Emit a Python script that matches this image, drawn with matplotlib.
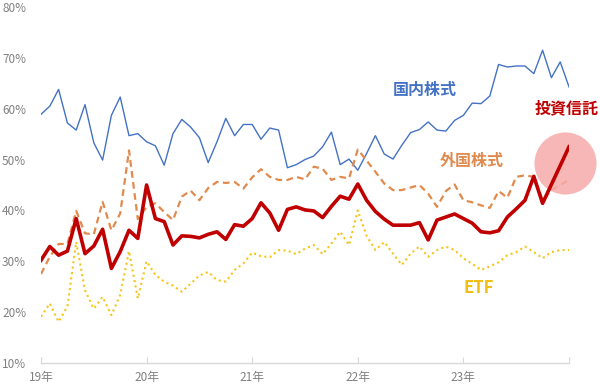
import matplotlib

matplotlib.use("Agg")
import matplotlib.pyplot as plt

plt.rcParams["font.family"] = ["Noto Sans CJK JP", "DejaVu Sans"]

# monthly shares (%), Jan 2019 .. Jan 2024
domestic = [
    58.9, 60.5, 63.8, 57.2, 55.8, 60.8, 53.3, 49.9, 58.7, 62.3,
    54.7, 55.1, 53.5, 52.7, 48.9, 55.1, 57.9, 56.4, 54.3, 49.4,
    53.5, 58.1, 54.7, 56.9, 56.9, 54.0, 56.2, 55.8, 48.4, 49.0,
    50.0, 50.7, 52.5, 55.4, 49.0, 50.1, 47.9, 51.2, 54.7, 51.1,
    50.1, 52.8, 55.3, 55.9, 57.4, 55.8, 55.6, 57.7, 58.7, 61.1,
    61.0, 62.5, 68.7, 68.2, 68.4, 68.4, 66.9, 71.5, 66.1, 69.2,
    64.3,
]
trusts = [
    30.2, 32.9, 31.2, 32.0, 38.4, 31.5, 33.0, 36.3, 28.6, 31.9,
    36.1, 34.5, 45.0, 38.4, 37.8, 33.2, 35.0, 34.9, 34.6, 35.3,
    35.8, 34.3, 37.2, 36.9, 38.4, 41.5, 39.5, 36.1, 40.2, 40.7,
    40.1, 39.9, 38.6, 40.8, 42.8, 42.2, 45.2, 42.0, 39.8, 38.3,
    37.1, 37.1, 37.1, 37.6, 34.2, 38.1, 38.7, 39.3, 38.4, 37.5,
    35.8, 35.6, 36.0, 38.7, 40.3, 42.0, 46.7, 41.4, 45.1, 48.8,
    52.5,
]
foreign = [
    27.5, 30.9, 33.4, 33.4, 39.9, 35.5, 35.3, 41.7, 36.1, 39.4,
    51.8, 38.3, 40.7, 41.4, 39.7, 38.1, 42.7, 43.9, 42.0, 44.4,
    45.6, 45.4, 45.6, 44.3, 46.5, 48.1, 46.6, 46.0, 46.0, 46.6,
    46.1, 48.6, 48.2, 46.0, 46.6, 46.3, 52.0, 49.8, 47.6, 45.3,
    44.0, 44.0, 44.5, 45.0, 43.3, 40.7, 43.8, 45.1, 42.0, 41.6,
    41.0, 40.5, 43.8, 42.5, 46.6, 46.9, 46.6, 42.0, 44.0, 45.0,
    46.0,
]
etf = [
    19.1, 21.7, 18.1, 21.1, 33.8, 24.3, 20.7, 23.0, 19.4, 23.4,
    32.0, 22.7, 30.0, 27.3, 26.0, 25.2, 24.0, 25.6, 27.2, 27.9,
    26.3, 26.0, 28.3, 29.6, 31.7, 31.0, 30.8, 32.2, 32.1, 31.4,
    32.5, 33.2, 31.4, 33.5, 35.8, 33.2, 40.0, 35.0, 32.2, 33.8,
    31.5, 29.3, 31.5, 32.9, 30.9, 32.2, 32.9, 32.2, 30.6, 29.5,
    28.3, 29.0, 29.8, 31.2, 31.8, 32.9, 31.8, 30.6, 31.8, 32.2,
    32.2,
]
year_labels = ["19年", "20年", "21年", "22年", "23年", ""]
y_ticks = [10, 20, 30, 40, 50, 60, 70, 80]

months = list(range(len(domestic)))

fig = plt.figure(figsize=(6, 3.9), dpi=100)
ax = fig.add_axes([41 / 600, 27 / 390, 528 / 600, 356 / 390])

ax.plot(months, etf, color="#F5C518", linewidth=1.5, linestyle=(0, (1, 1.6)), zorder=2)
ax.plot(months, domestic, color="#4472C4", linewidth=1.0, zorder=2)
ax.plot(months, foreign, color="#E08A4E", linewidth=1.6, linestyle=(0, (3, 2)), zorder=2)

# highlight circle around the latest investment-trust value
ax.scatter([months[-1] - 0.5], [49.3], s=2000, color="#F6ABAB", alpha=0.85,
           linewidths=0, zorder=3, clip_on=False)
ax.plot(months, trusts, color="#C00000", linewidth=2.6, zorder=4)

ax.text(43.6, 63.6, "国内株式", color="#4472C4", fontsize=11.5, fontweight="bold",
        ha="center", va="center")
ax.text(59.7, 60.1, "投資信託", color="#C00000", fontsize=11.5, fontweight="bold",
        ha="center", va="center")
ax.text(48.9, 49.7, "外国株式", color="#E08A4E", fontsize=11.5, fontweight="bold",
        ha="center", va="center")
ax.text(49.7, 24.7, "ETF", color="#F0BE14", fontsize=12, fontweight="bold",
        ha="center", va="center")

ax.set_xlim(0, 60)
ax.set_ylim(10, 80)
ax.set_xticks(range(0, 61, 12))
ax.set_xticklabels(year_labels)
ax.set_yticks(y_ticks)
ax.set_yticklabels([f"{v}%" for v in y_ticks])
for lbl in ax.get_yticklabels():
    lbl.set_horizontalalignment("left")

ax.tick_params(axis="y", length=0, pad=28, labelsize=8.5, labelcolor="#808080")
ax.tick_params(axis="x", length=4, direction="in", color="#D9D9D9", pad=6,
               labelsize=8.5, labelcolor="#808080")
for side in ["top", "right", "left"]:
    ax.spines[side].set_visible(False)
ax.spines["bottom"].set_color("#D9D9D9")
ax.spines["bottom"].set_linewidth(1.0)

fig.savefig("out.png", dpi=100)
